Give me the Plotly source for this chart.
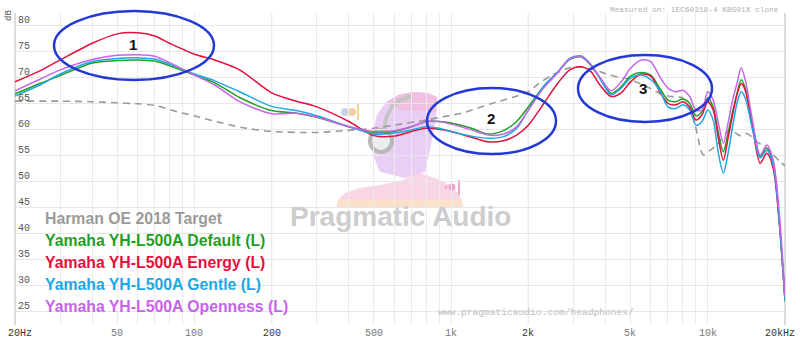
import math
import plotly.graph_objects as go

# ---------------- data ----------------
FREQ = [20, 25, 30, 40, 50, 60, 70, 80, 100, 120, 150, 200, 250, 300, 400, 500, 600, 700, 800, 900,
        1000, 1200, 1400, 1600, 1800, 2000, 2300, 2600, 2900, 3200, 3500, 3800, 4200, 4600, 5000, 5500,
        6000, 6500, 7000, 7500, 8000, 8500, 9000, 9500, 10000, 10500, 11000, 11500, 12000, 12500,
        13000, 13500, 14000, 15000, 16000, 17000, 18000, 19000, 20000]

DEFAULT = [66.8, 68.8, 70.3, 72.7, 73.2, 73.3, 73.1, 72.2, 70.4, 68.9, 66.1, 63.6, 63.1, 62.3, 60.5, 59.4, 59.6, 60.5, 61.5, 61.5,
           61.2, 60.2, 59.1, 59.75, 61.5, 64.3, 68.3, 70.9, 73.4, 73.9, 72.3, 69.8, 66.9, 68.2, 70.2, 70.9,
           70.4, 67.9, 65.6, 65.3, 65.8, 65.0, 62.6, 63.4, 66.0, 64.3, 59.3, 55.7, 59.3, 63.4,
           66.9, 69.5, 67.9, 60.5, 54.8, 56.4, 53.5, 42.5, 27.0]

ENERGY = [69.1, 71.2, 73.3, 76.5, 78.3, 78.5, 77.9, 76.5, 74.4, 73.3, 71.4, 67.0, 65.4, 64.3, 61.5, 58.8, 58.7, 59.6, 60.2, 60.0,
          59.6, 58.5, 57.6, 57.8, 58.9, 60.8, 65.0, 68.8, 71.4, 72.0, 71.1, 68.5, 66.3, 67.0, 69.1, 70.6,
          70.2, 67.2, 65.0, 64.7, 65.3, 64.3, 61.8, 62.8, 65.3, 63.7, 58.3, 54.1, 58.3, 62.8,
          66.6, 68.8, 67.5, 59.9, 53.5, 55.4, 52.5, 42.0, 27.3]

GENTLE = [66.4, 68.5, 70.6, 73.0, 73.6, 73.7, 73.5, 72.5, 70.6, 69.3, 67.2, 64.4, 63.6, 62.6, 60.5, 59.1, 59.3, 59.9, 60.5, 60.2,
          59.6, 58.7, 58.3, 58.6, 60.2, 63.7, 68.3, 71.0, 73.6, 74.1, 72.5, 69.8, 66.6, 67.9, 69.8, 70.4,
          69.5, 67.5, 64.3, 64.0, 64.7, 63.7, 60.8, 61.5, 63.7, 61.8, 55.4, 51.6, 55.4, 60.5,
          65.0, 67.2, 66.0, 59.6, 54.5, 56.0, 53.2, 42.3, 27.2]

OPENNESS = [67.4, 69.6, 71.4, 73.4, 74.2, 74.3, 74.0, 72.8, 70.4, 68.5, 65.3, 63.0, 63.1, 62.4, 60.5, 59.6, 59.75, 60.5, 61.5, 61.5,
            61.0, 59.9, 58.9, 59.1, 60.5, 63.7, 68.0, 70.8, 73.5, 74.0, 72.4, 70.0, 67.4, 69.1, 71.7, 73.3,
            73.0, 70.1, 67.9, 67.2, 67.5, 66.3, 63.7, 63.7, 67.2, 65.6, 61.2, 57.3, 61.2, 65.6,
            68.8, 71.8, 69.5, 61.2, 55.1, 57.0, 54.1, 44.0, 28.0]

TARGET_FREQ = [20, 30, 40, 50, 60, 70, 85, 100, 115, 155, 200, 300, 380, 500, 600, 800, 1000, 1100, 1450,
               2000, 2200, 2500, 3000, 3500, 4160, 5000, 6000, 6700, 7500, 8000, 8750, 9350, 9600, 10200,
               10870, 12200, 13350, 14200, 15560, 17000, 19100, 20000]
TARGET = [65.4, 65.4, 65.3, 65.1, 64.9, 64.6, 63.4, 62.6, 61.8, 60.3, 59.6, 59.4, 59.75, 60.2, 60.8, 61.8, 62.7, 63.1, 65.0,
          67.2, 68.8, 70.5, 72.0, 71.6, 70.4, 69.5, 67.8, 66.6, 66.2, 66.0, 62.4, 56.5, 55.1, 56.0,
          57.0, 59.9, 58.8, 59.2, 57.6, 56.4, 53.8, 53.0]

SERIES_NAMES = ["Yamaha YH-L500A Default (L)", "Yamaha YH-L500A Energy (L)",
                "Yamaha YH-L500A Gentle (L)", "Yamaha YH-L500A Openness (L)"]
TARGET_NAME = "Harman OE 2018 Target"
COLORS = ["#1f9f24", "#e5103c", "#1ea7e4", "#c664ea"]
TARGET_COLOR = "#9a9a9a"

GRID_F = [20, 30, 40, 50, 60, 70, 80, 90, 100, 200, 300, 400, 500, 600, 700, 800, 900,
          1000, 2000, 3000, 4000, 5000, 6000, 7000, 8000, 9000, 10000, 20000]
TICK_F = [20, 50, 100, 200, 500, 1000, 2000, 5000, 10000, 20000]
TICK_TEXT = ["20Hz", "50", "100", "200", "500", "1k", "2k", "5k", "10k", "20kHz"]
STRONG = {20, 200, 2000, 20000}
Y_TICKS = list(range(25, 85, 5))

# ---------------- layout helpers (pixel -> paper) ----------------
W, H = 800, 346
ML, MR, MT, MB = 15, 15, 13, 21
PW, PH = W - ML - MR, H - MT - MB


def px(x):
    return (x - ML) / PW


def py(y):
    return (H - MB - y) / PH


def fx(f):
    return math.log10(f / 20) / 3


fig = go.Figure()

fig.add_trace(go.Scatter(x=TARGET_FREQ, y=TARGET, mode="lines", name=TARGET_NAME,
                         line=dict(color=TARGET_COLOR, width=1.6, dash="7px,5px", shape="spline", smoothing=0.8),
                         hoverinfo="skip"))
for name, vals, col in zip(SERIES_NAMES, [DEFAULT, ENERGY, GENTLE, OPENNESS], COLORS):
    fig.add_trace(go.Scatter(x=FREQ, y=vals, mode="lines", name=name,
                             line=dict(color=col, width=1.5, shape="spline", smoothing=0.8),
                             hoverinfo="skip"))

fig.update_layout(
    width=W, height=H, margin=dict(l=ML, r=MR, t=MT, b=MB, autoexpand=False),
    paper_bgcolor="white", plot_bgcolor="white", showlegend=False,
    xaxis=dict(type="log", range=[math.log10(20), math.log10(20000)], tickvals=GRID_F,
               showticklabels=False, automargin=False,
               showgrid=True, gridcolor="#ebebeb", gridwidth=1, zeroline=False, showline=False, ticks="",
               fixedrange=True),
    yaxis=dict(range=[22.5, 82.3], tickvals=Y_TICKS, showticklabels=False, showgrid=True, automargin=False,
               gridcolor="#e6e6e6", gridwidth=1, zeroline=False, showline=False, ticks="", fixedrange=True),
)

shapes = []
# stronger vertical lines
for f, c in [(20, "#b8b8b8"), (200, "#cfcfcf"), (2000, "#cfcfcf"), (20000, "#b8b8b8")]:
    shapes.append(dict(type="line", xref="paper", yref="paper", x0=fx(f), x1=fx(f), y0=0, y1=1,
                       line=dict(color=c, width=1), layer="below"))


def path(pts, close=True):
    s = "M " + " L ".join(f"{px(x):.5f},{py(y):.5f}" for x, y in pts)
    return s + (" Z" if close else "")


# watermark silhouette (approximate)
shapes.append(dict(type="path", xref="paper", yref="paper", layer="below",
                   path=path([(337, 208), (338, 200), (345, 193), (360, 188), (380, 185), (400, 181), (420, 173),
                              (438, 179), (452, 186), (460, 195), (463, 208)]),
                   fillcolor="#f7c8de", line=dict(width=0), opacity=0.75))
shapes.append(dict(type="path", xref="paper", yref="paper", layer="below",
                   path=path([(337, 208), (338, 199), (462, 199), (463, 208)]),
                   fillcolor="#fbe3c6", line=dict(width=0), opacity=0.8))
shapes.append(dict(type="path", xref="paper", yref="paper", layer="below",
                   path=path([(380, 172), (373, 155), (372, 135), (377, 115), (386, 102), (398, 95), (412, 92),
                              (428, 93), (437, 97), (436, 118), (431, 145), (425, 172), (405, 178)]),
                   fillcolor="#e4c2f3", line=dict(width=0), opacity=0.8))
shapes.append(dict(type="path", xref="paper", yref="paper", layer="below",
                   path=path([(386, 102), (398, 95), (412, 92), (428, 93), (437, 97), (436, 112), (400, 110)]),
                   fillcolor="#f1bcdc", line=dict(width=0), opacity=0.8))
shapes.append(dict(type="path", xref="paper", yref="paper", layer="below",
                   path=path([(384, 131), (386, 118), (392, 106), (402, 99), (412, 96)], close=False),
                   line=dict(color="#c4c4c4", width=4)))
shapes.append(dict(type="circle", xref="paper", yref="paper", layer="below",
                   x0=px(370), x1=px(392), y0=py(152), y1=py(130),
                   fillcolor="#ededed", line=dict(color="#b8b8b8", width=4)))
for (cx, cy, r, col) in [(345, 112, 4, "#cbd3ea"), (352, 112, 4, "#f6cf9e"), (452, 187, 3.5, "#eea6cf"),
                         (446, 187, 1.5, "#eea6cf")]:
    shapes.append(dict(type="circle", xref="paper", yref="paper", layer="below",
                       x0=px(cx - r), x1=px(cx + r), y0=py(cy + r), y1=py(cy - r),
                       fillcolor=col, line=dict(width=0)))
for (x0, y0, x1, y1, col) in [(357, 104, 359, 120, "#f6cf9e"), (458, 180, 460, 195, "#eea6cf")]:
    shapes.append(dict(type="rect", xref="paper", yref="paper", layer="below",
                       x0=px(x0), x1=px(x1), y0=py(y1), y1=py(y0), fillcolor=col, line=dict(width=0)))

# blue ellipses
for (x0, y0, x1, y1) in [(54, 11, 214, 80), (427, 88, 556, 154), (578, 55, 712, 122)]:
    shapes.append(dict(type="circle", xref="paper", yref="paper", layer="above",
                       x0=px(x0), x1=px(x1), y0=py(y1), y1=py(y0),
                       line=dict(color="#2239d6", width=2.5)))
fig.update_layout(shapes=shapes)

ann = []
# x tick labels
for f, t in zip(TICK_F, TICK_TEXT):
    c = "#333" if f in STRONG else "#777"
    xa = "center"
    xx = fx(f)
    if f == 20:
        xx = px(20)
    elif f == 20000:
        xx = px(780)
    ann.append(dict(xref="paper", yref="paper", x=xx, y=py(333), text=t, showarrow=False,
                    xanchor=xa, yanchor="middle", font=dict(family="Liberation Mono", size=10, color=c)))
# y tick labels
for v in Y_TICKS:
    ann.append(dict(xref="paper", yref="y", x=px(16), y=v, yshift=5, text=str(v), showarrow=False,
                    xanchor="left", yanchor="middle", font=dict(family="Liberation Mono", size=10, color="#555")))
ann.append(dict(xref="paper", yref="paper", x=px(9), y=py(16), text="dB", textangle=-90, showarrow=False,
                xanchor="center", yanchor="middle", font=dict(family="Liberation Mono", size=9, color="#555")))
ann.append(dict(xref="paper", yref="paper", x=px(694), y=py(10), text="Measured on: IEC60318-4 KB501X clone",
                showarrow=False, xanchor="center", yanchor="middle",
                font=dict(family="Liberation Mono", size=7.8, color="#b0b0b0")))
ann.append(dict(xref="paper", yref="paper", x=px(436), y=py(312), text="www.pragmaticaudio.com/headphones/",
                showarrow=False, xanchor="left", yanchor="middle",
                font=dict(family="Liberation Mono", size=9.6, color="#bdbdbd")))
ann.append(dict(xref="paper", yref="paper", x=px(400), y=py(216), text="<b>Pragmatic Audio</b>",
                showarrow=False, xanchor="center", yanchor="middle",
                font=dict(family="Liberation Sans", size=28, color="#cdcdcd")))
# legend text
for i, (name, col) in enumerate(zip([TARGET_NAME] + SERIES_NAMES, [TARGET_COLOR] + COLORS)):
    ann.append(dict(xref="paper", yref="paper", x=px(43), y=py(218 + i * 22.2), text=f"<b>{name}</b>",
                    showarrow=False, xanchor="left", yanchor="middle",
                    font=dict(family="Liberation Sans", size=15.8, color=col)))
# ellipse numbers
for (t, x, y) in [("1", 133, 45), ("2", 491, 118), ("3", 643, 88)]:
    ann.append(dict(xref="paper", yref="paper", x=px(x), y=py(y), text=f"<b>{t}</b>", showarrow=False,
                    xanchor="center", yanchor="middle", font=dict(family="Liberation Sans", size=15, color="#111")))
fig.update_layout(annotations=ann)

fig.write_html("out.html")
